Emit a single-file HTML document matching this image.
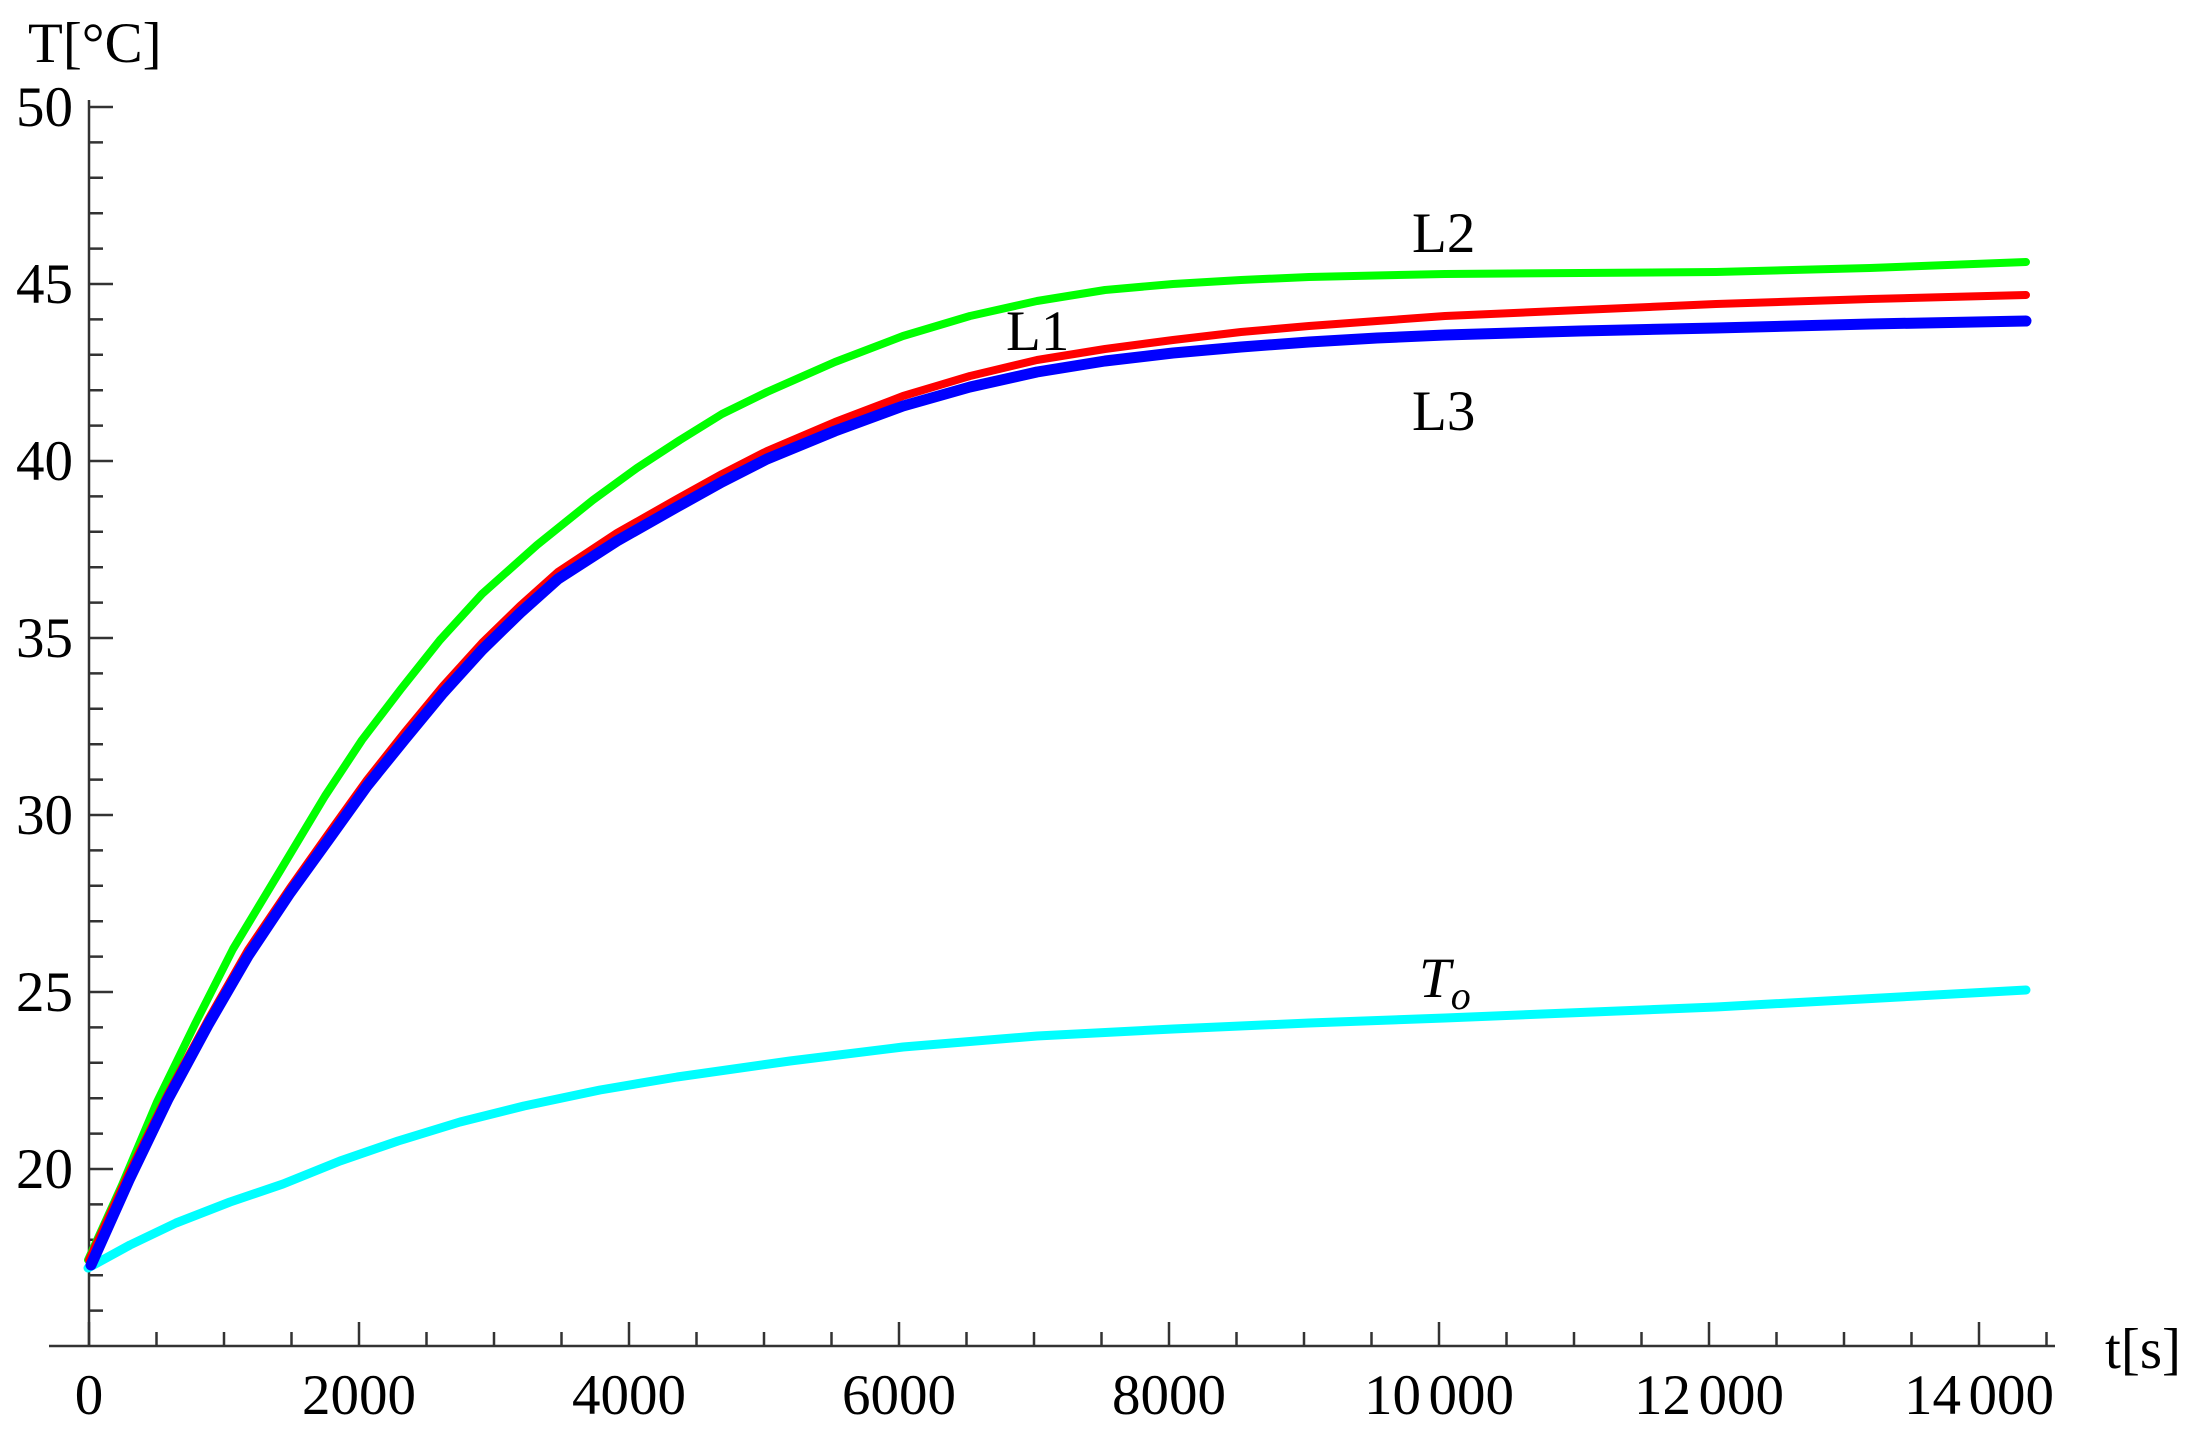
<!DOCTYPE html>
<html><head><meta charset="utf-8"><style>
html,body{margin:0;padding:0;background:#fff;}
svg{display:block;}
text{font-family:"Liberation Serif",serif;font-size:57px;fill:#000;}
</style></head><body>
<svg width="2191" height="1436" viewBox="0 0 2191 1436" xmlns="http://www.w3.org/2000/svg">
<g stroke="#333" stroke-width="2.5" fill="none">
<line x1="89" y1="100" x2="89" y2="1347"/>
<line x1="49" y1="1346" x2="2055" y2="1346"/>
<path d="M89,107h24M89,142.4h14M89,177.8h14M89,213.2h14M89,248.6h14M89,284h24M89,319.4h14M89,354.8h14M89,390.2h14M89,425.6h14M89,461h24M89,496.4h14M89,531.8h14M89,567.2h14M89,602.6h14M89,638h24M89,673.4h14M89,708.8h14M89,744.2h14M89,779.6h14M89,815h24M89,850.4h14M89,885.8h14M89,921.2h14M89,956.6h14M89,992h24M89,1027.4h14M89,1062.8h14M89,1098.2h14M89,1133.6h14M89,1169h24M89,1204.4h14M89,1239.8h14M89,1275.2h14M89,1310.6h14"/>
<path d="M89,1346v-24M156.5,1346v-14M224,1346v-14M291.5,1346v-14M359,1346v-24M426.5,1346v-14M494,1346v-14M561.5,1346v-14M629,1346v-24M696.5,1346v-14M764,1346v-14M831.5,1346v-14M899,1346v-24M966.5,1346v-14M1034,1346v-14M1101.5,1346v-14M1169,1346v-24M1236.5,1346v-14M1304,1346v-14M1371.5,1346v-14M1439,1346v-24M1506.5,1346v-14M1574,1346v-14M1641.5,1346v-14M1709,1346v-24M1776.5,1346v-14M1844,1346v-14M1911.5,1346v-14M1979,1346v-24M2046.5,1346v-14"/>
</g>
<g text-anchor="end" font-size="55">
<text x="73" y="126" font-size="55">50</text>
<text x="73" y="303" font-size="55">45</text>
<text x="73" y="480" font-size="55">40</text>
<text x="73" y="657" font-size="55">35</text>
<text x="73" y="834" font-size="55">30</text>
<text x="73" y="1011" font-size="55">25</text>
<text x="73" y="1188" font-size="55">20</text>
</g>
<g text-anchor="middle">
<text x="89" y="1414" font-size="55">0</text>
<text x="359" y="1414" font-size="55">2000</text>
<text x="629" y="1414" font-size="55">4000</text>
<text x="899" y="1414" font-size="55">6000</text>
<text x="1169" y="1414" font-size="55">8000</text>
<text x="1439" y="1414" font-size="55">10<tspan font-size="30"> </tspan>000</text>
<text x="1709" y="1414" font-size="55">12<tspan font-size="30"> </tspan>000</text>
<text x="1979" y="1414" font-size="55">14<tspan font-size="30"> </tspan>000</text>
</g>
<text x="28" y="62" font-size="56">T[°C]</text>
<text x="2105" y="1368" font-size="58">t[s]</text>
<g fill="none" stroke-linejoin="round" stroke-linecap="round">
<polyline stroke="#00ffff" stroke-width="9" points="88,1268 130,1245 176,1223 230,1202 283,1184 340,1161 398,1141 460,1122 524,1106 600,1090 677,1077 790,1061 903,1047 1037,1036 1173,1029 1309,1023 1445,1018 1716,1007 2026,990"/>
<polyline stroke="#00ff00" stroke-width="8" points="88,1260 122,1185 157,1102 195,1024 233,949 280,871 325,796 362,740 401,689 440,640 482,594 537,545 593,500 637,468 680,440 722,414 767,392 835,362 903,336 970,316 1037,301 1105,290 1173,284 1241,280 1309,277 1445,274 1580,273 1716,272 1870,268 2026,262"/>
<polyline stroke="#ff0000" stroke-width="8" points="89,1260 128,1175 168,1094 208,1020 248,950 290,888 329,833 367,780 405,732 443,686 482,643 520,606 558,572 617,533 677,499 722,474 767,451 835,422 903,396 970,376 1037,360 1105,349 1173,340 1241,332 1309,326 1377,321 1445,316 1580,310 1716,304 1870,299 2026,295"/>
<polyline stroke="#0000ff" stroke-width="11" points="91,1265 129,1180 168,1099 208,1025 248,956 290,893 329,839 367,786 405,739 443,693 482,650 520,613 558,579 617,541 677,507 722,482 767,459 835,431 903,406 970,387 1037,372 1105,361 1173,353 1241,347 1309,342 1377,338 1445,335 1580,331 1716,328 1870,324 2026,321"/>
</g>
<text x="1412" y="252">L2</text>
<text x="1006" y="350">L1</text>
<text x="1412" y="430">L3</text>
<text x="1419" y="997" font-style="italic">T<tspan font-size="40" dy="12">o</tspan></text>
</svg>
</body></html>
